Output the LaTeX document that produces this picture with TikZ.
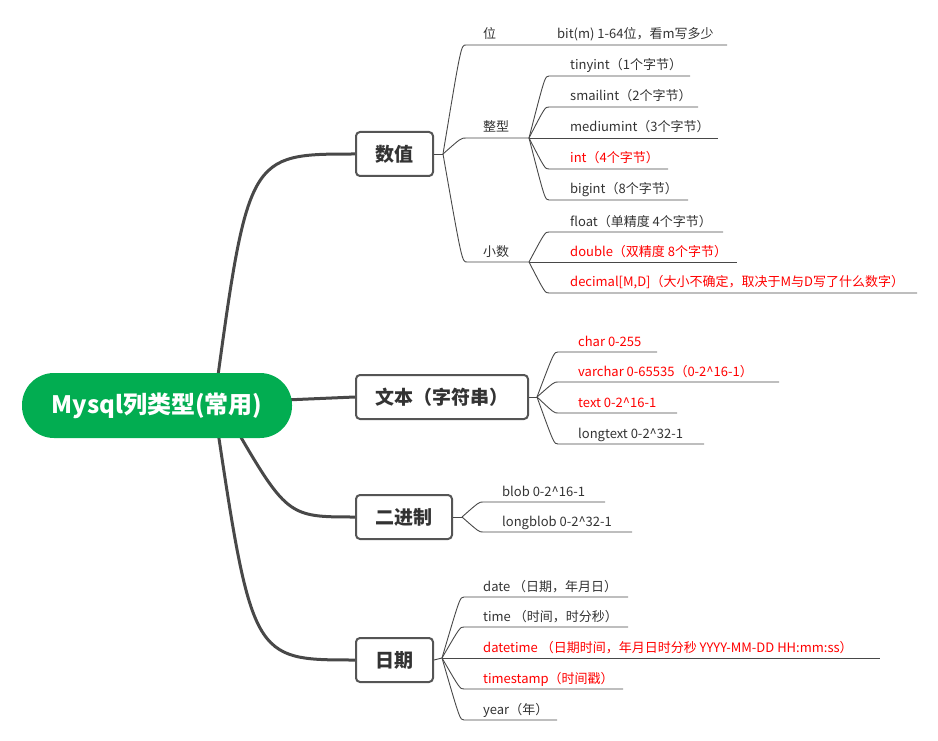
\documentclass[tikz,border=0pt]{standalone}
\usepackage{fontspec}
\setmainfont{Noto Sans CJK SC}
\usetikzlibrary{backgrounds}
\definecolor{rootgreen}{RGB}{2,173,81}
\definecolor{txtgray}{RGB}{51,51,51}
\definecolor{linegray}{RGB}{72,72,72}
\definecolor{boxgray}{RGB}{85,85,85}
\definecolor{leafred}{RGB}{255,0,0}
\begin{document}
\begin{tikzpicture}[x=1pt,y=-1pt,
  rootnode/.style={fill=rootgreen, rounded corners=32pt, minimum width=270pt, minimum height=65pt, text=white, font=\fontsize{24}{28}\selectfont\bfseries, inner sep=0pt},
  topic/.style={draw=boxgray, line width=2pt, fill=white, rounded corners=4pt, minimum height=44pt, inner xsep=19.5pt, inner ysep=0pt, text=txtgray, font=\fontsize{19}{22}\selectfont\bfseries, anchor=west},
  leaf/.style={anchor=base west, inner sep=0pt, yshift=-1.5pt, text=txtgray, font=\fontsize{13}{15}\selectfont},
  hot/.style={leaf, text=leafred},
  mainline/.style={draw=linegray, line width=3pt},
  subline/.style={draw=linegray, line width=0.9pt},
]
\useasboundingbox (0,0) rectangle (938,741);

% root and topics
\node[rootnode] (root) at (157,405.5) {Mysql列类型(常用)};
\node[topic] (num) at (355,154) {数值};
\node[topic] (txt) at (355,397) {文本（字符串）};
\node[topic] (bin) at (355,517) {二进制};
\node[topic] (dat) at (355,660) {日期};

% hidden start points inside the root
\coordinate (r1) at (214,405);
\coordinate (r3) at (228,415);
\coordinate (r4) at (214,405);

\begin{pgfonlayer}{background}
\draw[mainline] (r1) .. controls (248,154) .. (num.west);
\draw[mainline] (root.center) -- (txt.west);
\draw[mainline] (r3) .. controls (287,517) .. (bin.west);
\draw[mainline] (r4) .. controls (252,660) .. (dat.west);
\end{pgfonlayer}

% junctions
\coordinate (j1) at (443,154);
\coordinate (j2) at (529,138);
\coordinate (j3) at (529,262);
\coordinate (j4) at (537,397);
\coordinate (j5) at (462,517);
\coordinate (j6) at (442,658);

\draw[subline] (num.east) -- (j1);
\draw[subline] (txt.east) -- (j4);
\draw[subline] (bin.east) -- (j5);
\draw[subline] (dat.east) -- (j6);

% ---- 数值 ----
\coordinate (s_wei) at (466,45);   \coordinate (e_wei) at (540,45);
\coordinate (e_bit) at (727,45);
\node[leaf] (t_wei) at (483,37.5) {位};
\node[leaf] (t_bit) at (557,37.5) {bit(m) 1-64位，看m写多少};
\draw[subline] (j1) .. controls (461,45) .. (s_wei) -- (e_wei) -- (e_bit);

\coordinate (s_zx) at (466,138);
\node[leaf] (t_zx) at (483,130.5) {整型};
\draw[subline] (j1) .. controls (461,138) .. (s_zx) -- (j2);

\coordinate (s_xs) at (467,262);
\node[leaf] (t_xs) at (483,254.5) {小数};
\draw[subline] (j1) .. controls (462,262) .. (s_xs) -- (j3);

% 整型 leaves
\coordinate (s_a1) at (549,76);  \coordinate (e_a1) at (690,76);
\coordinate (s_a2) at (549,107); \coordinate (e_a2) at (698,107);
\coordinate (e_a3) at (718,138);
\coordinate (s_a4) at (549,169); \coordinate (e_a4) at (668,169);
\coordinate (s_a5) at (549,200); \coordinate (e_a5) at (688,200);
\node[leaf] (t_a1) at (570,68.5) {tinyint（1个字节）};
\node[leaf] (t_a2) at (570,99.5) {smailint（2个字节）};
\node[leaf] (t_a3) at (570,130.5) {mediumint（3个字节）};
\node[hot]  (t_a4) at (570,161.5) {int（4个字节）};
\node[leaf] (t_a5) at (570,192.5) {bigint（8个字节）};
\draw[subline] (j2) .. controls (545,76) .. (s_a1) -- (e_a1);
\draw[subline] (j2) .. controls (545,107) .. (s_a2) -- (e_a2);
\draw[subline] (j2) -- (e_a3);
\draw[subline] (j2) .. controls (545,169) .. (s_a4) -- (e_a4);
\draw[subline] (j2) .. controls (545,200) .. (s_a5) -- (e_a5);

% 小数 leaves
\coordinate (s_b1) at (549,232); \coordinate (e_b1) at (723,232);
\coordinate (e_b2) at (737,262);
\coordinate (s_b3) at (549,293); \coordinate (e_b3) at (917,293);
\node[leaf] (t_b1) at (570,224.5) {float（单精度 4个字节）};
\node[hot]  (t_b2) at (570,254.5) {double（双精度 8个字节）};
\node[hot]  (t_b3) at (570,285.5) {decimal[M,D]（大小不确定，取决于M与D写了什么数字）};
\draw[subline] (j3) .. controls (545,232) .. (s_b1) -- (e_b1);
\draw[subline] (j3) -- (e_b2);
\draw[subline] (j3) .. controls (545,293) .. (s_b3) -- (e_b3);

% ---- 文本 ----
\coordinate (s_c1) at (558,352); \coordinate (e_c1) at (657,352);
\coordinate (s_c2) at (558,382); \coordinate (e_c2) at (779,382);
\coordinate (s_c3) at (558,413); \coordinate (e_c3) at (677,413);
\coordinate (s_c4) at (558,444); \coordinate (e_c4) at (704,444);
\node[hot]  (t_c1) at (578,344.5) {char 0-255};
\node[hot]  (t_c2) at (578,374.5) {varchar 0-65535（0-2\textasciicircum16-1）};
\node[hot]  (t_c3) at (578,405.5) {text 0-2\textasciicircum16-1};
\node[leaf] (t_c4) at (578,436.5) {longtext 0-2\textasciicircum32-1};
\draw[subline] (j4) .. controls (554,352) .. (s_c1) -- (e_c1);
\draw[subline] (j4) .. controls (554,382) .. (s_c2) -- (e_c2);
\draw[subline] (j4) .. controls (554,413) .. (s_c3) -- (e_c3);
\draw[subline] (j4) .. controls (554,444) .. (s_c4) -- (e_c4);

% ---- 二进制 ----
\coordinate (s_d1) at (483,502); \coordinate (e_d1) at (605,502);
\coordinate (s_d2) at (483,532); \coordinate (e_d2) at (632,532);
\node[leaf] (t_d1) at (502,494.5) {blob 0-2\textasciicircum16-1};
\node[leaf] (t_d2) at (502,524.5) {longblob 0-2\textasciicircum32-1};
\draw[subline] (j5) .. controls (479,502) .. (s_d1) -- (e_d1);
\draw[subline] (j5) .. controls (479,532) .. (s_d2) -- (e_d2);

% ---- 日期 ----
\coordinate (s_f1) at (464,597); \coordinate (e_f1) at (628,597);
\coordinate (s_f2) at (464,627); \coordinate (e_f2) at (628,627);
\coordinate (e_f3) at (880,658);
\coordinate (s_f4) at (464,689); \coordinate (e_f4) at (623,689);
\coordinate (s_f5) at (464,720); \coordinate (e_f5) at (557,720);
\node[leaf] (t_f1) at (483,589.5) {date （日期，年月日）};
\node[leaf] (t_f2) at (483,619.5) {time （时间，时分秒）};
\node[hot]  (t_f3) at (483,650.5) {datetime （日期时间，年月日时分秒 YYYY-MM-DD HH:mm:ss）};
\node[hot]  (t_f4) at (483,681.5) {timestamp（时间戳）};
\node[leaf] (t_f5) at (483,712.5) {year（年）};
\draw[subline] (j6) .. controls (460,597) .. (s_f1) -- (e_f1);
\draw[subline] (j6) .. controls (460,627) .. (s_f2) -- (e_f2);
\draw[subline] (j6) -- (e_f3);
\draw[subline] (j6) .. controls (460,689) .. (s_f4) -- (e_f4);
\draw[subline] (j6) .. controls (460,720) .. (s_f5) -- (e_f5);
\end{tikzpicture}
\end{document}
